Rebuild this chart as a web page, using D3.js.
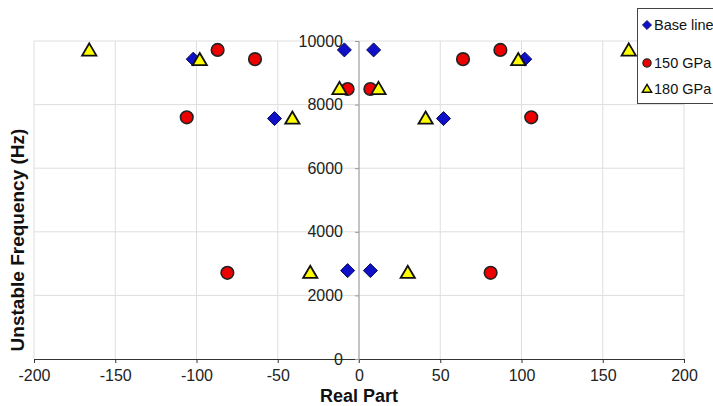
<!DOCTYPE html>
<html>
<head>
<meta charset="utf-8">
<script src="https://cdn.jsdelivr.net/npm/d3@7"></script>
<style>
  html, body { margin: 0; padding: 0; background: #fff; }
  svg { display: block; font-family: "Liberation Sans", Arial, sans-serif; }
</style>
</head>
<body>
<svg id="chart" width="713" height="406"></svg>
<script>
// ---- data ----
const xTicks = [-200, -150, -100, -50, 0, 50, 100, 150, 200];
const yTicks = [0, 2000, 4000, 6000, 8000, 10000];
const seriesNames = ["Base line", "150 GPa", "180 GPa"];

const baseX = [-102, -52, -9, 9, 52, 102, -7, 7];
const baseY = [9430, 7560, 9720, 9720, 7560, 9430, 2780, 2780];

const gpa150X = [-106, -87, -64, -7, 7, 64, 87, 106, -81, 81];
const gpa150Y = [7600, 9720, 9430, 8490, 8490, 9430, 9720, 7600, 2710, 2710];

const gpa180X = [-166, -98, -41, -12, 12, 41, 98, 166, -30, 30];
const gpa180Y = [9700, 9400, 7560, 8490, 8490, 7560, 9400, 9700, 2710, 2710];

// ---- layout ----
const svg = d3.select("#chart");
const x = d3.scaleLinear().domain([-200, 200]).range([34, 684]);
const y = d3.scaleLinear().domain([0, 10000]).range([359, 41]);
const fmt = d => String(d); // plain hyphen minus, like the reference

const shapes = {
  diamond: s => `M0,${-s}L${s},0L0,${s}L${-s},0Z`,
  circle: s => d3.arc()({innerRadius: 0, outerRadius: s, startAngle: 0, endAngle: 2 * Math.PI}),
  triangle: s => `M0,${-s * 1.05}L${s * 1.05},${s * 0.75}L${-s * 1.05},${s * 0.75}Z`
};
const styles = [
  {shape: "diamond", fill: "#1010c8", stroke: "#0a0a50", size: 7, sw: 1},
  {shape: "circle", fill: "#ee0000", stroke: "#222", size: 6.3, sw: 1.6},
  {shape: "triangle", fill: "#ffff00", stroke: "#111", size: 6.8, sw: 1.8}
];

// gridlines
const grid = svg.append("g");
grid.selectAll(".vg").data(xTicks).enter().append("line")
  .attr("x1", d => x(d)).attr("x2", d => x(d))
  .attr("y1", y(10000)).attr("y2", y(0))
  .attr("stroke", "#dedede").attr("stroke-width", 1);
grid.selectAll(".hg").data(yTicks.filter(d => d > 0)).enter().append("line")
  .attr("x1", x(-200)).attr("x2", x(200))
  .attr("y1", d => y(d)).attr("y2", d => y(d))
  .attr("stroke", "#dedede").attr("stroke-width", 1);

// x axis at y=0
const xAxis = svg.append("g")
  .attr("transform", `translate(0,${y(0)})`)
  .call(d3.axisBottom(x).tickValues(xTicks).tickSize(4).tickPadding(7).tickFormat(fmt));
xAxis.select(".domain").attr("stroke", "#333");
xAxis.selectAll(".tick line").attr("stroke", "#333");
xAxis.selectAll("text").attr("font-size", 16).attr("fill", "#222")
  .attr("font-family", "'Liberation Sans', Arial, sans-serif");

// y axis at x=0
const yAxis = svg.append("g")
  .attr("transform", `translate(${x(0)},0)`)
  .call(d3.axisLeft(y).tickValues(yTicks).tickSize(4).tickPadding(12).tickFormat(fmt));
yAxis.select(".domain").attr("stroke", "#999").attr("d", `M0,${y(0) + 4}V${y(10000)}`);
yAxis.selectAll(".tick line").attr("stroke", "#999");
yAxis.selectAll("text").attr("font-size", 16).attr("fill", "#222")
  .attr("font-family", "'Liberation Sans', Arial, sans-serif");

// axis titles
svg.append("text").attr("x", x(0)).attr("y", 402)
  .attr("text-anchor", "middle").attr("font-size", 18).attr("font-weight", "bold").attr("fill", "#111")
  .text("Real Part");
svg.append("text").attr("transform", `translate(24,${(y(0) + y(10000)) / 2 + 40}) rotate(-90)`)
  .attr("text-anchor", "middle").attr("font-size", 19).attr("font-weight", "bold").attr("fill", "#111")
  .text("Unstable Frequency (Hz)");

// series
const allSeries = [
  {name: seriesNames[0], xs: baseX, ys: baseY, st: styles[0]},
  {name: seriesNames[1], xs: gpa150X, ys: gpa150Y, st: styles[1]},
  {name: seriesNames[2], xs: gpa180X, ys: gpa180Y, st: styles[2]}
];
allSeries.forEach(s => {
  const pts = s.xs.map((v, i) => [v, s.ys[i]]);
  svg.append("g").selectAll("path").data(pts).enter().append("path")
    .attr("transform", d => `translate(${x(d[0])},${y(d[1])})`)
    .attr("d", shapes[s.st.shape](s.st.size))
    .attr("fill", s.st.fill).attr("stroke", s.st.stroke).attr("stroke-width", s.st.sw);
});

// legend
const lg = svg.append("g");
lg.append("rect").attr("x", 637.5).attr("y", 8.5).attr("width", 100).attr("height", 95)
  .attr("fill", "#fff").attr("stroke", "#444").attr("stroke-width", 1);
const legendY = [25, 63, 89];
allSeries.forEach((s, i) => {
  lg.append("path")
    .attr("transform", `translate(647,${legendY[i]})`)
    .attr("d", shapes[s.st.shape](s.st.size * 0.65))
    .attr("fill", s.st.fill).attr("stroke", s.st.stroke).attr("stroke-width", s.st.sw * 0.8);
  lg.append("text").attr("x", 654).attr("y", legendY[i]).attr("dy", "0.35em")
    .attr("font-size", 14.5).attr("fill", "#111").text(s.name);
});
</script>
</body>
</html>
